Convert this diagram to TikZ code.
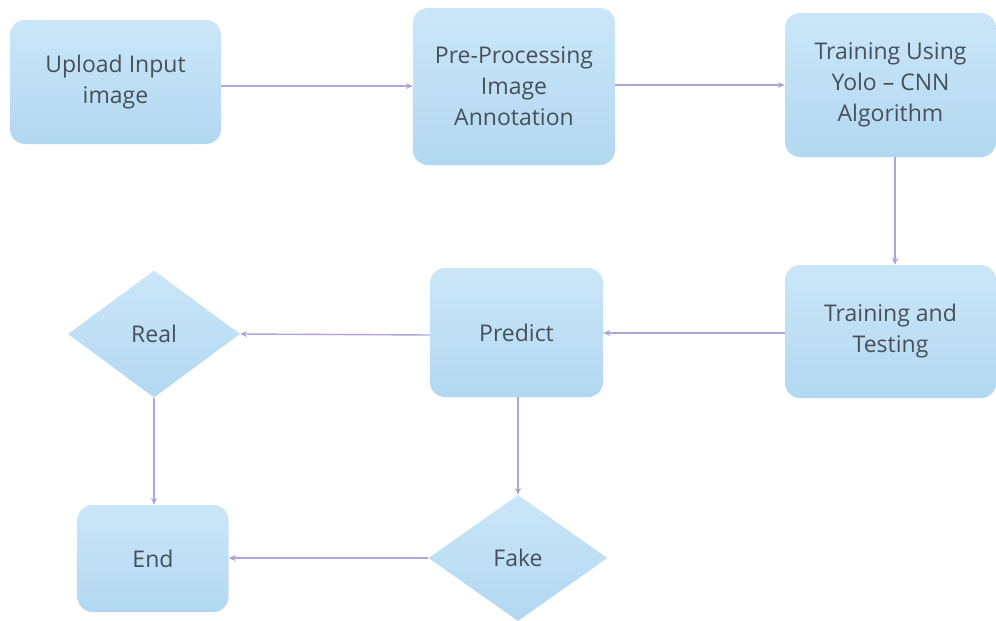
\documentclass[tikz,border=0pt]{standalone}
\usepackage{fontspec}
\setmainfont{Open Sans}
\usetikzlibrary{shapes.geometric,arrows.meta}
\definecolor{boxtop}{HTML}{CBE6F8}
\definecolor{boxbot}{HTML}{B2D8F1}
\definecolor{arr}{HTML}{B3A3D9}
\definecolor{txt}{HTML}{46505A}
\tikzset{
  procbox/.style={rectangle, rounded corners=15pt, top color=boxtop, bottom color=boxbot,
    draw=none, text=txt, align=center, font=\fontsize{23}{31}\selectfont, inner sep=0pt},
  decbox/.style={diamond, top color=boxtop, bottom color=boxbot, draw=none, text=txt,
    align=center, font=\fontsize{23}{31}\selectfont, inner sep=0pt},
  conn/.style={draw=arr, line width=1.4pt, -{Stealth[length=7pt,width=6pt]}}
}
\begin{document}
\begin{tikzpicture}[x=1pt,y=-1pt]
\useasboundingbox (0,0) rectangle (996,621);
\node[procbox, minimum width=211pt, minimum height=124pt] (upload) at (115.5,82) {Upload Input\\image};
\node[procbox, minimum width=202pt, minimum height=157pt] (pre) at (514,86.5) {Pre-Processing\\Image\\Annotation};
\node[procbox, minimum width=211pt, minimum height=144pt] (train) at (890.5,85) {Training Using\\Yolo -- CNN\\Algorithm};
\node[procbox, minimum width=211pt, minimum height=133pt] (tt) at (890.5,331.5) {Training and\\Testing};
\node[procbox, minimum width=173pt, minimum height=129pt] (pred) at (516.5,332.5) {Predict};
\node[decbox, minimum width=172pt, minimum height=127pt] (real) at (154,334) {Real};
\node[procbox, minimum width=151pt, minimum height=107pt] (end) at (153,558.5) {End};
\node[decbox, minimum width=179pt, minimum height=126pt] (fake) at (518,558) {Fake};
\draw[conn] (upload.east |- 0,86) -- (pre.west |- 0,86);
\draw[conn] (pre.east |- 0,85) -- (train.west |- 0,85);
\draw[conn] (train.south -| 895,0) -- (tt.north -| 895,0);
\draw[conn] (tt.west |- 0,333) -- (pred.east |- 0,333);
\draw[conn] (pred.west |- 0,335) -- (real.east);
\draw[conn] (real.south) -- (end.north -| real.south);
\draw[conn] (pred.south -| fake.north) -- (fake.north);
\draw[conn] (fake.west) -- (end.east |- fake.west);
\end{tikzpicture}
\end{document}
